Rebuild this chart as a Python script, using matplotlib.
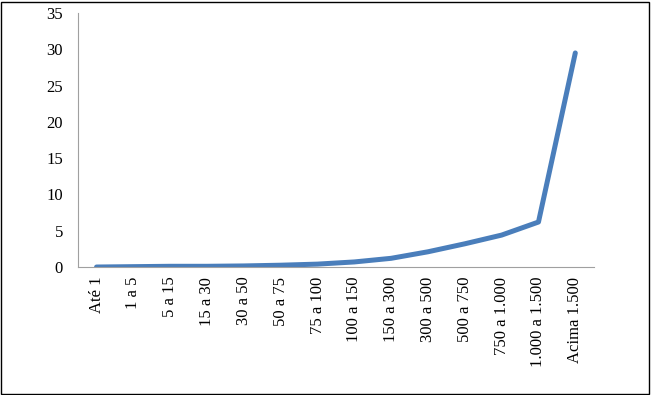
import matplotlib
matplotlib.use('Agg')
import matplotlib.pyplot as plt
from matplotlib.patches import Rectangle

categories = ['Até 1', '1 a 5', '5 a 15', '15 a 30', '30 a 50', '50 a 75', '75 a 100',
              '100 a 150', '150 a 300', '300 a 500', '500 a 750', '750 a 1.000',
              '1.000 a 1.500', 'Acima 1.500']
values = [0.0, 0.05, 0.1, 0.1, 0.15, 0.25, 0.4, 0.7, 1.2, 2.1, 3.2, 4.4, 6.2, 29.5]

plt.rcParams['font.family'] = 'Liberation Serif'

fig = plt.figure(figsize=(6.51, 3.95), dpi=100)
ax = fig.add_axes([0.12, 0.324, 0.792, 0.643])

x = range(len(categories))
ax.plot(x, values, color='#4a7ebb', linewidth=3.6, solid_capstyle='round')

ax.set_xlim(-0.5, len(categories) - 0.5)
ax.set_ylim(0, 35)
ax.set_yticks(range(0, 36, 5))
ax.set_xticks(list(x))
ax.set_xticklabels(categories, rotation=90, fontsize=12)
ax.tick_params(axis='y', labelsize=12, length=0, pad=11)
ax.tick_params(axis='x', length=0, pad=7)

for s in ['top', 'right']:
    ax.spines[s].set_visible(False)
for s in ['left', 'bottom']:
    ax.spines[s].set_color('#a0a0a0')
    ax.spines[s].set_linewidth(0.8)

# outer frame
fig.patches.append(Rectangle((0.002, 0.003), 0.995, 0.993, transform=fig.transFigure,
                             fill=False, edgecolor='black', linewidth=1.0))

fig.savefig('out.png', dpi=100)
